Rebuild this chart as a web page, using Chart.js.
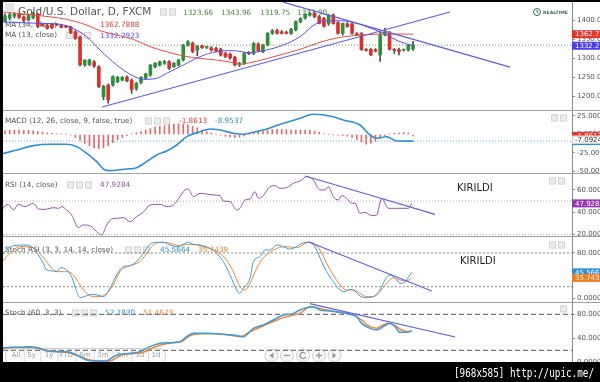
<!DOCTYPE html>
<html><head><meta charset="utf-8">
<script src="https://cdn.jsdelivr.net/npm/chart.js@4.4.0/dist/chart.umd.min.js"></script>
<style>
html,body{margin:0;padding:0;background:#fff;}
#wrap{position:relative;width:600px;height:382px;overflow:hidden;background:#fff;}
#wrap canvas{position:absolute;}
</style></head><body>
<div id="wrap">
<canvas id="cMain"></canvas>
<canvas id="cMacd"></canvas>
<canvas id="cRsi"></canvas>
<canvas id="cSrsi"></canvas>
<canvas id="cStoch"></canvas>
<canvas id="ov" width="600" height="382" style="left:0;top:0"></canvas>
</div>
<script>
// ---------------- DATA ----------------
const candleOpen  = [1398,1405,1410,1415,1408,1400,1406,1415,1389,1385,1388,1388,1386,1383,1382,1369,1355,1282,1283,1290,1277,1198,1229,1229,1238,1242,1249,1242,1220,1236,1247,1255,1277,1281,1286,1290,1277,1281,1295,1334,1339,1321,1332,1328,1327,1325,1323,1312,1310,1302,1282,1286,1313,1312,1337,1317,1334,1365,1372,1369,1368,1365,1374,1396,1405,1413,1417,1409,1404,1391,1413,1393,1365,1390,1390,1364,1364,1322,1323,1322,1308,1361,1365,1323,1322,1321,1321,1323.66];
const candleHigh  = [1416,1418,1419,1418,1411,1415,1421,1418,1392,1388,1390,1391,1389,1386,1384,1372,1358,1296,1297,1293,1280,1228,1232,1253,1252,1251,1253,1245,1236,1251,1260,1283,1288,1292,1294,1293,1288,1296,1336,1346,1342,1333,1334,1331,1330,1328,1326,1315,1313,1305,1289,1315,1317,1341,1340,1336,1367,1375,1376,1372,1371,1378,1398,1406,1416,1420,1421,1412,1407,1414,1416,1396,1392,1393,1393,1367,1367,1325,1325,1325,1370,1378,1370,1325,1326,1323,1336,1343.96];
const candleLow   = [1394,1400,1405,1404,1396,1398,1403,1380,1384,1376,1377,1385,1379,1380,1364,1349,1279,1278,1280,1275,1222,1190,1181,1226,1235,1240,1238,1207,1215,1232,1244,1252,1274,1279,1283,1270,1275,1279,1292,1331,1314,1306,1325,1325,1318,1316,1305,1301,1297,1279,1278,1283,1309,1309,1317,1314,1332,1362,1363,1363,1363,1362,1371,1393,1402,1410,1406,1390,1381,1386,1389,1363,1360,1381,1363,1360,1320,1318,1306,1316,1291,1358,1321,1312,1308,1318,1318,1319.75];
const candleClose = [1411,1414,1416,1407,1399,1412,1417,1384,1386,1378,1380,1387,1381,1381,1367,1352,1282,1294,1295,1279,1225,1226,1190,1251,1249,1249,1240,1217,1233,1249,1258,1281,1286,1290,1290,1273,1286,1295,1334,1343,1317,1331,1327,1329,1321,1319,1308,1304,1300,1282,1286,1312,1311,1338,1319,1334,1365,1372,1365,1365,1365,1375,1396,1404,1415,1417,1409,1391,1384,1413,1391,1365,1391,1383,1365,1361,1322,1320,1308,1318,1361,1369,1323,1320,1317,1323,1334,1333.90];

const ma34Idx = [-1.07,6.04,13.15,17.41,20.26,23.81,27.36,30.92,34.47,38.02,41.58,45.13,48.69,50.11,52.24,55.79,59.35,62.9,66.45,70.01,73.56,77.11,80.67,87.07];
const ma34Val = [1421.9,1413.1,1401.7,1386.8,1371.9,1360.5,1349.1,1329.8,1316.7,1305.3,1299.1,1294.7,1287.7,1283.3,1287.7,1298.2,1310.5,1322.8,1338.6,1350.9,1357.9,1361.4,1363.1,1362.79];
const ma13Idx = [-1.07,3.2,7.46,11.73,14.57,17.41,20.26,23.81,27.36,29.49,32.34,34.47,38.02,41.58,45.13,48.69,52.24,55.79,59.35,62.9,66.45,70.01,73.56,77.11,80.67,84.22,87.07];
const ma13Val = [1395.6,1393,1391.2,1388.6,1378,1356.1,1321.1,1281.6,1252.6,1243.9,1246.5,1259.7,1281.6,1303.5,1316.7,1319.3,1314,1321.1,1334.2,1356.1,1391.2,1398.2,1395.6,1382.4,1364.9,1343,1332.29];

const trendUpIdx = [20.7, 94.9],  trendUpVal = [1171, 1421];
const trendDnIdx = [59.3, 107.7], trendDnVal = [1447, 1276];

const macdIdx = [-1.07,2.49,6.04,9.59,13.15,15.28,17.42,19.55,20.96,22.39,25.95,28.08,30.21,32.34,34.47,36.61,38.74,41.58,43.71,45.84,48.68,50.81,52.94,55.8,59.34,62.9,65.73,70,72.13,75.69,77.83,79.25,81.39,83.52,87.06];
const macdVal = [-26.8,-21,-15.1,-13.2,-13.2,-16.4,-25.5,-36.7,-46.6,-48.9,-46.6,-44.8,-36.7,-27.7,-22.3,-14.2,-2.9,3.8,7.4,6.1,1.6,0.3,3,7.4,15.1,21.9,27.3,24.1,19.6,12.8,-0.7,-5.1,-3,-8.8,-8.95];
const macdHist = [5,5.5,6,6,5.5,5.5,5,4,3,2,1.5,1,0.8,0.5,-1,-4,-8,-12,-15,-18,-19,-18,-15,-11,-7,-4,-1.5,1,2.5,4,6,8,10,11,12,13,14,14.5,14,13,11,9,6,4,2,0.5,-1,-2.5,-3.5,-4,-3.5,-2,0.5,2,4,5,6,7,7,7,6.5,6,6,6,6,5.5,4.5,3,1,0.5,-0.5,-1,-1.5,-2.5,-4,-7,-10,-13,-12,-9,-5,-2,1,1.5,2,2.5,2,-1.86];
const macdSignalLast = -7.0924;

const rsiIdx = [-1.07,0.71,1.78,2.84,4.26,6.04,7.11,8.53,9.6,10.3,11.37,12.08,13.15,14.2,15.64,16.7,18.48,19.54,20.61,21.68,22.74,23.81,25.23,26.65,28.07,29.49,30.92,33.05,34.47,35.89,37.31,38.38,39.09,40.16,41.58,44.42,45.84,46.55,47.98,49.4,50.11,51.17,52.24,53.3,54.02,55.08,56.5,57.57,58.64,60.06,61.48,62.9,64.32,65.74,67.16,68.23,68.94,70.01,71.07,71.78,72.85,73.92,74.63,75.69,76.76,78.18,79.25,80.31,81.73,84.22,86,86.71];
const rsiVal = [40.5,47.1,42,47.1,45,48,42.9,42.6,43.5,44.1,43.5,45,42,37.5,26.1,28.5,27,22.5,19.5,28.5,33.9,34.5,35.1,31.5,36,39.9,46.5,47.1,45,46.5,54,60,60.9,54,57,55.5,54.9,50.1,49.5,42,43.5,51,51.9,58.5,52.5,54.9,63,63.9,61.5,62.1,66,68.1,72,69,60,60,63,54,51,54.9,52.5,48,48,39,39.9,36.9,37.5,52.5,43.5,43.5,43.5,47.93];
const rsiBands = [50, 20];
const rsiTrendIdx = [64, 91.7], rsiTrendVal = [72.6, 38.1];

const srsiKIdx = [-1.07,-0.36,0.71,1.78,4.62,6.04,7.11,8.17,8.88,10.3,11,11.87,13.15,14.2,15.28,15.99,17.41,18.48,20.26,20.97,22.39,23.81,25.23,26.65,28.07,29.49,30.92,32.34,33.76,35.18,36.6,38.02,39.09,40.16,41.58,43.71,45.13,46.55,47.98,49.4,49.96,50.82,52.24,52.95,54.37,55.44,56.5,57.92,59.35,60.77,62.19,62.9,64.32,65.39,66.45,67.52,68.59,70.01,71.43,72.5,73.56,74.63,75.69,77.11,78.54,79.96,81.02,82.09,83.51,84.22,85.29,86.35,86.71];
const srsiKVal = [70.5,79.4,88.3,93,94.2,88.3,76.4,61.6,49.8,48,46.8,53.9,49.8,37.9,11.3,0.6,4.1,6.5,4.1,2.4,17.2,40.9,55.7,57.5,64.6,79.4,95.4,99,99,94.2,91.3,95.4,99,95.4,94.2,88.3,79.4,64.6,40.9,14.2,8.3,17.2,35,64.6,73.5,85.3,85.3,94.2,91.3,87.1,91.3,95.4,99,97.2,85.3,64.6,46.8,29,14.2,11.3,15.4,12.4,3.6,0.6,2.4,14.2,32,40.9,32,26.1,29,40.9,45.57];
const srsiDIdx = [-1.07,0.36,1.78,3.2,6.04,7.46,8.88,10.3,11.73,13.15,14.57,15.99,17.41,18.83,20.26,21.68,23.1,24.52,26.65,28.78,30.21,31.63,33.76,35.89,37.31,38.74,40.87,43,45.13,47.26,48.69,50.11,51.17,52.24,53.66,55.08,56.5,57.92,60.06,62.19,62.9,64.68,65.74,67.16,68.59,70.01,71.43,72.85,74.27,75.69,77.11,78.54,79.96,81.38,82.8,84.22,85.64,86.71];
const srsiDVal = [61.6,73.5,85.3,91.3,89.5,79.4,64.6,49.8,46.8,46.8,40.9,23.1,8.3,2.4,2.4,8.3,23.1,46.8,57.5,64.6,79.4,94.2,99,95.4,93,95.4,94.2,89.5,82.4,67.6,46.8,20.1,14.2,26.1,52.7,71.7,81.2,88.3,91.3,89.5,91.3,99,97.2,85.3,61.6,40.9,23.1,14.2,14.2,8.3,2.4,2.4,11.3,26.1,36.1,32,30.2,35.74];
const srsiBands = [80, 20];
const srsiTrendIdx = [64.7, 91], srsiTrendVal = [100, 12.4];

const stochKIdx = [-1.07,1.07,3.2,5.33,7.46,8.88,11,13.15,15.28,17.41,19.54,21.68,23.1,24.52,26.65,28.78,30.92,33.05,35.18,37.31,38.74,40.16,43,45.84,48.69,50.82,52.95,55.08,57.21,59.35,61.48,62.9,64.32,65.74,67.16,69.3,71.43,73.56,74.98,76.05,77.83,79.25,80.67,82.09,83.16,84.22,85.64,86.71];
const stochKVal = [23.3,25,25,26.1,23.3,18.8,17.7,17.7,12.2,3.8,2.2,2.2,9.4,13.3,14.9,17.7,26.1,31.6,32.7,34.4,42.7,48.3,48.3,47.2,45.5,42.7,56.6,62.2,70.5,78.8,81.6,87.2,91.1,92.7,87.2,85.5,83.3,80,76.1,64.9,56.6,53.8,59.4,64.9,59.4,49.9,49.9,52.78];
const stochDIdx = [-1.07,1.07,5.33,7.46,9.6,13.15,15.99,18.12,20.26,22.39,23.81,25.23,27.36,29.49,31.63,33.76,35.89,37.67,39.45,41.58,44.42,47.26,50.11,52.24,54.37,57.21,59.35,61.48,62.9,65.03,66.45,68.59,70.72,72.85,74.63,76.05,77.47,79.25,80.67,81.73,83.16,84.58,86,86.71];
const stochDVal = [22.2,24.4,25,22.2,18.8,16.6,9.4,3.8,2.2,2.2,7.7,13.3,14.4,16.6,24.4,29.9,32.7,34.4,44.4,47.7,47.7,46,42.7,51,58.3,67.7,74.4,78.8,81.6,92.7,91.1,87.2,84.4,81.6,77.7,70.5,61,56.6,62.2,64.9,61,53.8,51,51.47];
const stochBands = [80, 20];
const stochTrendIdx = [65, 96], stochTrendVal = [97.8, 42.2];

const timeButtons = ['All','5y','1y','YTD','6m','3m','1m','5d','1d'];

// ---------------- STYLE / LAYOUT ----------------
const X_MIN = -0.43, X_MAX = 120.9;
const UP = '#2f8f3a', DOWN = '#d9302c', WICK = '#4a4a4a';
const TREND = '#5f5fe6', BLUE = '#2d8fdc', ORANGE = '#f2832f', PURPLE = '#9b4fb0';
const FONT = '"DejaVu Sans", Verdana, sans-serif';

const pts = (xs, ys) => xs.map((x, i) => ({x, y: ys[i]}));
const hline = (v) => [{x: X_MIN, y: v}, {x: X_MAX, y: v}];
function lineDs(data, color, width, extra) {
  return Object.assign({type: 'line', data, borderColor: color, borderWidth: width, pointRadius: 0,
    fill: false, tension: 0, cubicInterpolationMode: 'monotone'}, extra || {});
}
function txt(ctx, s, x, y, color, size, bold) {
  ctx.font = (bold ? 'bold ' : '') + size + 'px ' + FONT;
  ctx.fillStyle = color; ctx.textBaseline = 'middle'; ctx.textAlign = 'left';
  ctx.fillText(s, x, y);
}
function icons(ctx, xs, y) {
  xs.forEach(x => { ctx.fillStyle = '#ececec'; ctx.fillRect(x, y - 3.5, 7, 7);
    ctx.strokeStyle = '#d4d4d4'; ctx.lineWidth = 1; ctx.strokeRect(x + 0.5, y - 3, 6, 6); });
}
function valBox(ctx, chart, top, v, bg, label, fg) {
  const y = chart.scales.y.getPixelForValue(v) + top;
  ctx.fillStyle = bg; ctx.fillRect(572, y - 4, 30, 8);
  txt(ctx, label, 575, y + 0.5, fg || '#fff', 7);
}

function makePane(id, top, height, yMin, yMax, step, dec, datasets, before, after) {
  const cv = document.getElementById(id);
  cv.width = 629; cv.height = height;
  cv.style.left = '3px'; cv.style.top = top + 'px';
  const chart = new Chart(cv, {
    type: 'line',
    data: { datasets },
    options: {
      responsive: false, animation: false, events: [],
      layout: { padding: 0 },
      plugins: { legend: { display: false }, tooltip: { enabled: false } },
      scales: {
        x: { type: 'linear', min: X_MIN, max: X_MAX, display: false, offset: false, bounds: 'data',
             grid: { offset: false }, ticks: { includeBounds: true } },
        y: { position: 'right', min: yMin, max: yMax,
             afterFit: s => { s.width = 60; s.paddingTop = 0; s.paddingBottom = 0; },
             border: { display: true, color: '#8a8a8a' },
             grid: { drawOnChartArea: false, tickLength: 3, color: '#8a8a8a' },
             ticks: { includeBounds: false, stepSize: step, padding: 2, color: '#555',
                      font: { family: FONT, size: 7 }, callback: v => v.toFixed(dec) } }
      }
    },
    plugins: [{
      id: 'paneDeco',
      beforeDatasetsDraw(c) { if (before) { const ctx = c.ctx; ctx.save(); ctx.translate(-3, -top); before(ctx, c, top); ctx.restore(); } },
      afterDraw(c) { if (after) { const ctx = c.ctx; ctx.save(); ctx.translate(-3, -top); after(ctx, c, top); ctx.restore(); } }
    }]
  });
  return chart;
}

// ---------------- MAIN PANE ----------------
const idx = candleOpen.map((_, i) => i);
const bodyData = idx.map(i => ({x: i, y: [candleOpen[i], candleClose[i]]}));
const wickData = idx.map(i => ({x: i, y: [candleLow[i], candleHigh[i]]}));
const bodyColors = idx.map(i => candleClose[i] >= candleOpen[i] ? UP : DOWN);
const lastClose = candleClose[candleClose.length - 1];

makePane('cMain', 2, 108, 1163.2, 1447.4, 50, 2, [
  lineDs(pts(trendUpIdx, trendUpVal), TREND, 1.2, {order: 0}),
  lineDs(pts(trendDnIdx, trendDnVal), TREND, 1.2, {order: 0}),
  lineDs(pts(ma13Idx, ma13Val), '#5a4ff0', 1, {order: 1}),
  lineDs(pts(ma34Idx, ma34Val), '#ee4b3e', 1, {order: 1}),
  {type: 'bar', data: bodyData, backgroundColor: bodyColors, barThickness: 3, grouped: false, minBarLength: 1, order: 2},
  {type: 'bar', data: wickData, backgroundColor: WICK, barThickness: 1, grouped: false, order: 3},
  lineDs(hline(lastClose), '#6a9a5e', 1, {borderDash: [1, 2], order: 4})
], (ctx) => {
  ctx.fillStyle = '#e4e4e4'; ctx.fillRect(5, 3, 9, 8);
  txt(ctx, 'Gold/U.S. Dollar, D, FXCM', 18, 12.5, '#555', 10.5);
  icons(ctx, [160, 169], 12);
  const ohlc = [candleOpen[87], candleHigh[87], candleLow[87], candleClose[87]];
  [183, 221, 260, 297].forEach((x, k) => txt(ctx, ohlc[k].toFixed(2), x, 13, '#4b8a3c', 7.3));
  txt(ctx, 'MA (34, close)', 5, 25, '#555', 7.3);
  txt(ctx, '1362.7888', 100, 25, '#e53935', 7.3);
  txt(ctx, 'MA (13, close)', 5, 35.5, '#555', 7.3);
  icons(ctx, [66, 75, 84], 35.5);
  txt(ctx, '1332.2923', 100, 36, '#5a4ff0', 7.3);
  ctx.strokeStyle = '#2d6b55'; ctx.lineWidth = 1;
  ctx.beginPath(); ctx.arc(537, 12, 3.5, 0, Math.PI * 2); ctx.stroke();
  ctx.beginPath(); ctx.moveTo(537, 10); ctx.lineTo(537, 12); ctx.lineTo(538.5, 13); ctx.stroke();
  txt(ctx, 'REALTIME', 543, 12.5, '#3a6a5a', 4.6, true);
}, (ctx, c, top) => {
  valBox(ctx, c, top, ma34Val[ma34Val.length - 1], '#e8322c', '1362.79');
  valBox(ctx, c, top, ma13Val[ma13Val.length - 1], '#4a3cf2', '1332.29');
});

// ---------------- MACD PANE ----------------
const histData = idx.map(i => ({x: i, y: [0, macdHist[i]]}));
makePane('cMacd', 110, 64, -53.4, 33.1, 25, 4, [
  lineDs(pts(macdIdx, macdVal), BLUE, 1.6, {order: 0}),
  {type: 'bar', data: histData, backgroundColor: '#e8686a', barThickness: 1, grouped: false, order: 1},
  lineDs(hline(macdVal[macdVal.length - 1]), '#5ab0f0', 1, {borderDash: [1, 2], order: 2})
], (ctx) => {
  txt(ctx, 'MACD (12, 26, close, 9, false, true)', 5, 121, '#555', 7.3);
  icons(ctx, [145, 154, 163], 121);
  txt(ctx, '-1.8613', 179, 121, '#e53935', 7.3);
  txt(ctx, '-8.9537', 215, 121, BLUE, 7.3);
  icons(ctx, [551, 560], 118);
}, (ctx, c, top) => {
  valBox(ctx, c, top, macdHist[macdHist.length - 1], '#e8322c', '-1.8613');
  valBox(ctx, c, top, macdVal[macdVal.length - 1], '#2d8fdc', '-8.9537');
  const y = c.scales.y.getPixelForValue(macdSignalLast) + top;
  ctx.fillStyle = '#fff'; ctx.fillRect(572, y - 4, 30, 8);
  ctx.strokeStyle = '#ccc'; ctx.strokeRect(572.5, y - 3.5, 30, 7);
  txt(ctx, macdSignalLast.toFixed(4), 575, y + 0.5, '#333', 7);
});

// ---------------- RSI PANE ----------------
makePane('cRsi', 174, 63, 17.66, 74.4, 20, 4, [
  lineDs(pts(rsiTrendIdx, rsiTrendVal), TREND, 1.2, {order: 0}),
  lineDs(pts(rsiIdx, rsiVal), PURPLE, 1, {order: 1}),
  lineDs(hline(rsiBands[0]), '#aaa', 1, {borderDash: [1, 2], order: 2}),
  lineDs(hline(rsiBands[1]), '#aaa', 1, {borderDash: [1, 2], order: 2})
], (ctx) => {
  txt(ctx, 'RSI (14, close)', 5, 185, '#555', 7.3);
  icons(ctx, [67, 76, 85], 185);
  txt(ctx, '47.9284', 100, 185, PURPLE, 7.3);
  icons(ctx, [549, 558], 181);
  txt(ctx, 'KIRILDI', 457, 188.5, '#222', 10);
}, (ctx, c, top) => {
  valBox(ctx, c, top, rsiVal[rsiVal.length - 1], '#9236b0', '47.9284');
});

// ---------------- STOCH RSI PANE ----------------
makePane('cSrsi', 237, 65, -7.1, 108.4, 40, 4, [
  lineDs(pts(srsiTrendIdx, srsiTrendVal), TREND, 1.2, {order: 0}),
  lineDs(pts(srsiKIdx, srsiKVal), '#3d9be0', 1, {order: 1}),
  lineDs(pts(srsiDIdx, srsiDVal), ORANGE, 1, {order: 2}),
  lineDs(hline(srsiBands[0]), '#888', 1, {borderDash: [2, 2], order: 3}),
  lineDs(hline(srsiBands[1]), '#888', 1, {borderDash: [2, 2], order: 3})
], (ctx) => {
  txt(ctx, 'Stoch RSI (3, 3, 14, 14, close)', 5, 250, '#555', 7.3);
  icons(ctx, [125, 134, 143], 250);
  txt(ctx, '45.5664', 160, 250, '#2d8fdc', 7.3);
  txt(ctx, '35.7439', 198, 250, ORANGE, 7.3);
  icons(ctx, [549, 558], 245);
  txt(ctx, 'KIRILDI', 460, 261, '#222', 10);
}, (ctx, c, top) => {
  valBox(ctx, c, top, srsiKVal[srsiKVal.length - 1], '#2d8fdc', '45.5664');
  valBox(ctx, c, top, srsiDVal[srsiDVal.length - 1], '#f07a1e', '35.7439');
});

// ---------------- STOCH PANE ----------------
makePane('cStoch', 302, 64, -6.2, 100.5, 40, 4, [
  lineDs(pts(stochTrendIdx, stochTrendVal), TREND, 1.2, {order: 0}),
  lineDs(pts(stochKIdx, stochKVal), '#3d9be0', 1.5, {order: 1}),
  lineDs(pts(stochDIdx, stochDVal), ORANGE, 1.5, {order: 2}),
  lineDs(hline(stochBands[0]), '#777', 1.2, {borderDash: [5, 3], order: 3}),
  lineDs(hline(stochBands[1]), '#777', 1.2, {borderDash: [5, 3], order: 3})
], (ctx) => {
  txt(ctx, 'Stoch (60, 3, 3)', 5, 313, '#555', 7.3);
  icons(ctx, [72, 81, 90], 313);
  txt(ctx, '52.7830', 105, 313, '#2d8fdc', 7.3);
  txt(ctx, '51.4673', 143, 313, ORANGE, 7.3);
  icons(ctx, [560], 309);
  ctx.fillStyle = 'rgba(250,250,250,0.75)'; ctx.strokeStyle = '#cfcfcf'; ctx.lineWidth = 1;
  ctx.beginPath(); ctx.roundRect(5.5, 348.5, 160, 16, 7); ctx.fill(); ctx.stroke();
  const cx = [16, 31.5, 49, 66, 85, 103, 122.5, 140, 156];
  timeButtons.forEach((b, k) => {
    ctx.font = '7px ' + FONT; ctx.fillStyle = '#a0a0a0'; ctx.textAlign = 'center'; ctx.textBaseline = 'middle';
    ctx.fillText(b, cx[k], 355.5);
    if (k > 0) { ctx.strokeStyle = '#dcdcdc'; ctx.beginPath(); ctx.moveTo((cx[k] + cx[k-1]) / 2 + 0.5, 349); ctx.lineTo((cx[k] + cx[k-1]) / 2 + 0.5, 362); ctx.stroke(); }
  });
  [271.5, 287, 303, 319, 334.5].forEach((x, k) => {
    ctx.fillStyle = 'rgba(244,244,244,0.85)'; ctx.strokeStyle = '#cdcdcd';
    ctx.beginPath(); ctx.arc(x, 355.5, 6.5, 0, Math.PI * 2); ctx.fill(); ctx.stroke();
    ctx.strokeStyle = '#9a9a9a'; ctx.fillStyle = '#9a9a9a'; ctx.lineWidth = 1.3;
    ctx.beginPath();
    if (k === 0) { ctx.moveTo(x + 2, 352.5); ctx.lineTo(x - 2, 355.5); ctx.lineTo(x + 2, 358.5); ctx.closePath(); ctx.fill(); }
    else if (k === 1) { ctx.moveTo(x - 3, 355.5); ctx.lineTo(x + 3, 355.5); ctx.stroke(); }
    else if (k === 2) { ctx.arc(x, 355.5, 3, 0.4, Math.PI * 1.8); ctx.stroke(); }
    else if (k === 3) { ctx.moveTo(x - 3, 355.5); ctx.lineTo(x + 3, 355.5); ctx.moveTo(x, 352.5); ctx.lineTo(x, 358.5); ctx.stroke(); }
    else { ctx.moveTo(x - 2, 352.5); ctx.lineTo(x + 2, 355.5); ctx.lineTo(x - 2, 358.5); ctx.closePath(); ctx.fill(); }
    ctx.lineWidth = 1;
  });
}, null);

// ---------------- FRAME OVERLAY ----------------
const ov = document.getElementById('ov').getContext('2d');
ov.fillStyle = '#000';
ov.fillRect(0, 0, 600, 2);
ov.fillRect(0, 0, 3, 382);
ov.fillRect(0, 362, 600, 20);
ov.strokeStyle = '#a0a0a0'; ov.lineWidth = 1;
[110.5, 173.5, 236.5, 302.5].forEach(y => { ov.beginPath(); ov.moveTo(3, y); ov.lineTo(600, y); ov.stroke(); });
ov.font = '12px "DejaVu Sans Mono", monospace';
ov.fillStyle = '#fff'; ov.textBaseline = 'alphabetic'; ov.textAlign = 'left';
const foot = '[968x585] http://upic.me/';
const fw = ov.measureText(foot).width;
ov.save(); ov.translate(454, 377); ov.scale(140 / fw, 1); ov.fillText(foot, 0, 0); ov.restore();
</script>
</body></html>
